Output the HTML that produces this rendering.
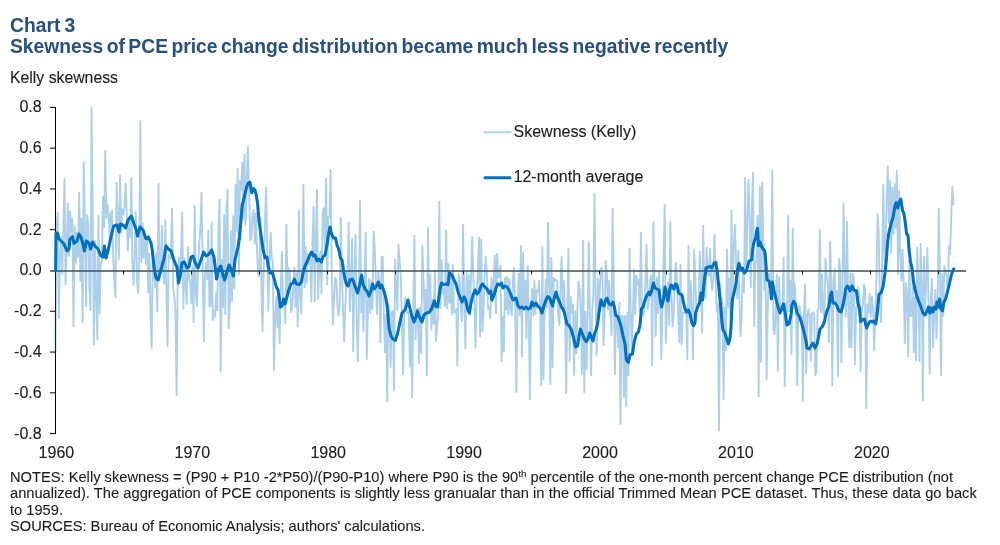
<!DOCTYPE html>
<html><head><meta charset="utf-8"><title>Chart 3</title>
<style>
html,body{margin:0;padding:0;background:#fff;}
body{width:1000px;height:545px;overflow:hidden;position:relative;font-family:"Liberation Sans",Arial,sans-serif;}
svg{position:absolute;left:0;top:0;display:block;}
svg text{font-family:"Liberation Sans",Arial,sans-serif;white-space:pre;}
svg text.ax{font-size:16px;fill:#1c1c1c;stroke:#1c1c1c;stroke-width:0.12px;}
svg text.t{font-size:19.3px;font-weight:bold;fill:#25507f;word-spacing:-1.9px;}
svg text.n{font-size:14.67px;fill:#1c1c1c;stroke:#1c1c1c;stroke-width:0.1px;}
</style></head><body>
<svg width="1000" height="545" viewBox="0 0 1000 545">
<rect x="0" y="0" width="1000" height="545" fill="#fff"/>
<text x="10" y="31.7" class="t" style="word-spacing:-1.2px">Chart 3</text>
<text x="10" y="52.75" class="t">Skewness of PCE price change distribution became much less negative recently</text>
<text x="10" y="83.2" class="ax" style="font-size:15.8px">Kelly skewness</text>
<line x1="55.5" x2="55.5" y1="107" y2="434" stroke="#000" stroke-width="1"/>
<line x1="50" x2="55.5" y1="107.38" y2="107.38" stroke="#000" stroke-width="1"/>
<text x="41.7" y="112.28" text-anchor="end" class="ax">0.8</text>
<line x1="50" x2="55.5" y1="148.16" y2="148.16" stroke="#000" stroke-width="1"/>
<text x="41.7" y="153.06" text-anchor="end" class="ax">0.6</text>
<line x1="50" x2="55.5" y1="188.94" y2="188.94" stroke="#000" stroke-width="1"/>
<text x="41.7" y="193.84" text-anchor="end" class="ax">0.4</text>
<line x1="50" x2="55.5" y1="229.72" y2="229.72" stroke="#000" stroke-width="1"/>
<text x="41.7" y="234.62" text-anchor="end" class="ax">0.2</text>
<line x1="50" x2="55.5" y1="270.50" y2="270.50" stroke="#000" stroke-width="1"/>
<text x="41.7" y="275.40" text-anchor="end" class="ax">0.0</text>
<line x1="50" x2="55.5" y1="311.28" y2="311.28" stroke="#000" stroke-width="1"/>
<text x="41.7" y="316.18" text-anchor="end" class="ax">-0.2</text>
<line x1="50" x2="55.5" y1="352.06" y2="352.06" stroke="#000" stroke-width="1"/>
<text x="41.7" y="356.96" text-anchor="end" class="ax">-0.4</text>
<line x1="50" x2="55.5" y1="392.84" y2="392.84" stroke="#000" stroke-width="1"/>
<text x="41.7" y="397.74" text-anchor="end" class="ax">-0.6</text>
<line x1="50" x2="55.5" y1="433.62" y2="433.62" stroke="#000" stroke-width="1"/>
<text x="41.7" y="438.52" text-anchor="end" class="ax">-0.8</text>

<line x1="50" x2="966" y1="271" y2="271" stroke="#767676" stroke-width="2"/>
<line x1="123.50" x2="123.50" y1="271" y2="274.4" stroke="#000" stroke-width="1"/>
<line x1="191.50" x2="191.50" y1="271" y2="274.4" stroke="#000" stroke-width="1"/>
<line x1="259.50" x2="259.50" y1="271" y2="274.4" stroke="#000" stroke-width="1"/>
<line x1="327.50" x2="327.50" y1="271" y2="274.4" stroke="#000" stroke-width="1"/>
<line x1="395.50" x2="395.50" y1="271" y2="274.4" stroke="#000" stroke-width="1"/>
<line x1="463.50" x2="463.50" y1="271" y2="274.4" stroke="#000" stroke-width="1"/>
<line x1="531.50" x2="531.50" y1="271" y2="274.4" stroke="#000" stroke-width="1"/>
<line x1="599.50" x2="599.50" y1="271" y2="274.4" stroke="#000" stroke-width="1"/>
<line x1="666.50" x2="666.50" y1="271" y2="274.4" stroke="#000" stroke-width="1"/>
<line x1="734.50" x2="734.50" y1="271" y2="274.4" stroke="#000" stroke-width="1"/>
<line x1="802.50" x2="802.50" y1="271" y2="274.4" stroke="#000" stroke-width="1"/>
<line x1="870.50" x2="870.50" y1="271" y2="274.4" stroke="#000" stroke-width="1"/>
<line x1="938.50" x2="938.50" y1="271" y2="274.4" stroke="#000" stroke-width="1"/>

<polyline fill="none" stroke="#0070c0" stroke-opacity="0.325" stroke-width="1.9" stroke-linejoin="round" points="55.4,353.2 56.5,225.8 57.7,212.8 58.8,318.2 59.9,257.8 61.1,236.7 62.2,273.7 63.3,231.7 64.5,178.8 65.6,284.2 66.7,245.2 67.9,203.8 69.0,256.1 70.1,211.7 71.3,232.7 72.4,218.8 73.5,326.2 74.7,226.3 75.8,262.9 76.9,232.8 78.0,256.9 79.2,192.8 80.3,280.8 81.4,218.7 82.6,322.2 83.7,162.8 84.8,219.4 86.0,306.2 87.1,215.2 88.2,223.6 89.4,289.4 90.5,310.2 91.6,107.8 92.8,223.9 93.9,344.2 95.0,240.8 96.2,296.9 97.3,339.2 98.4,215.8 99.6,313.2 100.7,263.9 101.8,260.9 103.0,196.8 104.1,227.5 105.2,150.8 106.4,217.9 107.5,204.4 108.6,212.9 109.8,241.3 110.9,214.1 112.0,210.4 113.2,258.3 114.3,279.1 115.4,297.2 116.6,182.8 117.7,218.6 118.8,259.4 120.0,175.8 121.1,233.0 122.2,209.2 123.3,214.8 124.5,206.8 125.6,183.8 126.7,212.1 127.9,250.6 129.0,217.1 130.1,237.0 131.3,177.8 132.4,261.6 133.5,285.2 134.7,250.5 135.8,212.0 136.9,278.9 138.1,293.2 139.2,260.8 140.3,121.4 141.5,261.7 142.6,223.0 143.7,257.9 144.9,241.5 146.0,264.2 147.1,238.3 148.3,292.2 149.4,253.6 150.5,311.8 151.7,348.2 152.8,251.2 153.9,268.7 155.1,287.2 156.2,253.0 157.3,311.7 158.5,183.8 159.6,280.4 160.7,269.3 161.9,226.0 163.0,269.4 164.1,283.6 165.3,220.0 166.4,292.2 167.5,346.2 168.7,254.6 169.8,257.2 170.9,258.7 172.0,208.8 173.2,287.7 174.3,296.2 175.4,310.7 176.6,395.2 177.7,283.2 178.8,257.9 180.0,273.7 181.1,251.2 182.2,212.2 183.4,308.4 184.5,258.3 185.6,282.2 186.8,304.0 187.9,247.0 189.0,277.8 190.2,283.2 191.3,302.9 192.4,266.8 193.6,322.2 194.7,205.8 195.8,291.8 197.0,306.2 198.1,267.7 199.2,243.9 200.4,228.4 201.5,192.8 202.6,264.8 203.8,341.2 204.9,278.0 206.0,263.3 207.2,279.1 208.3,230.8 209.4,306.5 210.6,306.2 211.7,222.4 212.8,320.2 214.0,311.2 215.1,316.8 216.2,292.4 217.3,310.2 218.5,228.4 219.6,199.8 220.7,371.2 221.9,259.7 223.0,307.3 224.1,215.3 225.3,314.2 226.4,209.2 227.5,189.8 228.7,328.2 229.8,306.1 230.9,231.0 232.1,301.0 233.2,216.3 234.3,288.7 235.5,184.8 236.6,230.8 237.7,168.8 238.9,274.2 240.0,180.6 241.1,190.0 242.3,162.8 243.4,219.7 244.5,154.8 245.7,224.7 246.8,181.4 247.9,146.8 249.1,190.0 250.2,240.1 251.3,238.8 252.5,213.4 253.6,210.0 254.7,243.4 255.9,213.3 257.0,251.5 258.1,274.2 259.2,276.3 260.4,217.6 261.5,291.8 262.6,331.2 263.8,261.6 264.9,228.5 266.0,187.8 267.2,240.3 268.3,310.2 269.4,270.7 270.6,232.8 271.7,257.7 272.8,262.1 274.0,370.2 275.1,319.7 276.2,297.2 277.4,327.0 278.5,292.2 279.6,343.2 280.8,285.9 281.9,251.8 283.0,301.6 284.2,302.0 285.3,323.2 286.4,224.8 287.6,291.4 288.7,267.8 289.8,272.7 291.0,312.2 292.1,307.7 293.2,290.4 294.4,267.4 295.5,306.6 296.6,273.2 297.8,326.2 298.9,210.8 300.0,293.0 301.2,313.7 302.3,272.8 303.4,184.8 304.6,287.2 305.7,247.0 306.8,282.8 307.9,253.6 309.1,264.3 310.2,258.3 311.3,301.8 312.5,240.9 313.6,206.8 314.7,301.2 315.9,237.1 317.0,189.8 318.1,299.2 319.3,263.7 320.4,251.2 321.5,293.2 322.7,213.8 323.8,208.1 324.9,247.4 326.1,178.8 327.2,284.4 328.3,217.1 329.5,216.7 330.6,169.8 331.7,267.6 332.9,324.2 334.0,300.0 335.1,277.9 336.3,279.5 337.4,304.2 338.5,315.7 339.7,305.2 340.8,217.8 341.9,273.1 343.1,312.9 344.2,341.2 345.3,307.0 346.5,272.9 347.6,279.6 348.7,222.8 349.8,311.3 351.0,281.1 352.1,238.8 353.2,351.2 354.4,279.7 355.5,234.8 356.6,315.5 357.8,361.2 358.9,306.4 360.0,200.8 361.2,312.2 362.3,280.7 363.4,331.2 364.6,279.6 365.7,232.8 366.8,359.2 368.0,306.9 369.1,279.0 370.2,313.1 371.4,280.5 372.5,309.2 373.6,231.8 374.8,247.6 375.9,281.2 377.0,314.2 378.2,272.4 379.3,280.9 380.4,342.2 381.6,256.8 382.7,256.6 383.8,312.6 385.0,352.2 386.1,314.5 387.2,401.2 388.4,303.4 389.5,312.4 390.6,367.2 391.8,312.0 392.9,311.4 394.0,390.2 395.1,259.8 396.3,286.9 397.4,310.0 398.5,244.8 399.7,261.8 400.8,276.2 401.9,316.4 403.1,374.2 404.2,312.5 405.3,297.2 406.5,310.3 407.6,313.1 408.7,311.9 409.9,366.2 411.0,310.6 412.1,397.2 413.3,316.3 414.4,235.8 415.5,339.2 416.7,309.7 417.8,308.3 418.9,363.2 420.1,307.6 421.2,353.2 422.3,245.8 423.5,280.1 424.6,312.7 425.7,289.6 426.9,375.2 428.0,227.8 429.1,310.1 430.3,274.9 431.4,329.6 432.5,299.2 433.7,323.8 434.8,270.1 435.9,341.2 437.1,327.2 438.2,313.2 439.3,201.8 440.4,307.9 441.6,260.1 442.7,293.2 443.8,288.7 445.0,306.2 446.1,230.2 447.2,308.4 448.4,264.0 449.5,302.7 450.6,275.6 451.8,314.7 452.9,264.8 454.0,312.3 455.2,311.9 456.3,308.9 457.4,365.2 458.6,274.2 459.7,279.4 460.8,308.7 462.0,321.2 463.1,224.8 464.2,299.4 465.4,348.2 466.5,272.8 467.6,309.4 468.8,275.2 469.9,315.0 471.0,278.9 472.2,236.8 473.3,275.9 474.4,302.6 475.6,347.2 476.7,295.5 477.8,272.7 479.0,237.8 480.1,336.2 481.2,239.8 482.4,331.2 483.5,312.0 484.6,275.5 485.8,256.8 486.9,273.5 488.0,308.4 489.1,306.4 490.3,318.2 491.4,277.8 492.5,301.0 493.7,278.7 494.8,255.8 495.9,313.2 497.1,253.8 498.2,277.8 499.3,274.7 500.5,265.8 501.6,361.2 502.7,316.5 503.9,351.2 505.0,277.8 506.1,309.8 507.3,276.7 508.4,314.8 509.5,279.4 510.7,308.2 511.8,315.4 512.9,279.6 514.1,267.8 515.2,308.4 516.3,392.2 517.5,309.3 518.6,273.7 519.7,314.9 520.9,245.8 522.0,356.2 523.1,252.8 524.3,307.7 525.4,280.8 526.5,338.2 527.7,265.8 528.8,314.3 529.9,399.2 531.1,307.8 532.2,288.9 533.3,315.5 534.4,281.0 535.6,313.9 536.7,290.3 537.8,291.9 539.0,280.8 540.1,308.7 541.2,385.2 542.4,246.8 543.5,379.2 544.6,312.9 545.8,279.5 546.9,307.6 548.0,222.8 549.2,281.2 550.3,384.2 551.4,257.8 552.6,367.2 553.7,277.8 554.8,280.7 556.0,279.7 557.1,281.3 558.2,315.4 559.4,325.2 560.5,283.8 561.6,256.8 562.8,308.9 563.9,281.0 565.0,312.2 566.2,393.2 567.3,311.3 568.4,248.8 569.6,361.2 570.7,297.0 571.8,312.3 573.0,304.8 574.1,375.2 575.2,311.4 576.4,353.2 577.5,306.6 578.6,281.8 579.7,289.5 580.9,311.0 582.0,374.2 583.1,240.8 584.3,392.2 585.4,311.8 586.5,369.2 587.7,311.5 588.8,241.8 589.9,314.6 591.1,375.2 592.2,310.6 593.3,296.9 594.5,193.8 595.6,295.8 596.7,355.2 597.9,278.8 599.0,315.1 600.1,280.8 601.3,267.8 602.4,272.9 603.5,345.2 604.7,314.5 605.8,260.8 606.9,274.0 608.1,309.7 609.2,280.8 610.3,312.7 611.5,335.2 612.6,208.8 613.7,272.4 614.9,374.2 616.0,310.7 617.1,315.6 618.3,347.2 619.4,302.8 620.5,424.2 621.6,315.5 622.8,316.4 623.9,397.2 625.0,315.9 626.2,406.2 627.3,312.4 628.4,375.2 629.6,248.8 630.7,310.1 631.8,352.8 633.0,308.8 634.1,269.8 635.2,314.3 636.4,275.7 637.5,284.7 638.6,279.9 639.8,311.2 640.9,232.8 642.0,309.2 643.2,315.2 644.3,310.0 645.4,280.7 646.6,244.8 647.7,309.2 648.8,301.9 650.0,281.4 651.1,275.6 652.2,365.2 653.4,221.8 654.5,283.5 655.6,336.2 656.8,277.3 657.9,313.0 659.0,272.6 660.2,299.0 661.3,359.6 662.4,315.5 663.6,254.8 664.7,204.8 665.8,343.2 667.0,305.8 668.1,282.0 669.2,325.2 670.3,221.8 671.5,294.6 672.6,326.2 673.7,314.5 674.9,279.4 676.0,262.8 677.1,285.1 678.3,316.7 679.4,342.2 680.5,264.8 681.7,344.2 682.8,312.3 683.9,313.1 685.1,313.2 686.2,307.4 687.3,359.6 688.5,245.8 689.6,315.2 690.7,281.3 691.9,309.3 693.0,359.6 694.1,249.8 695.3,278.6 696.4,311.9 697.5,308.6 698.7,302.7 699.8,251.8 700.9,282.7 702.1,332.8 703.2,225.8 704.3,297.8 705.5,298.1 706.6,247.8 707.7,272.6 708.9,275.8 710.0,248.8 711.1,278.6 712.2,290.0 713.4,274.6 714.5,234.8 715.6,281.6 716.8,311.6 717.9,303.4 719.0,430.2 720.2,283.6 721.3,313.0 722.4,298.5 723.6,399.2 724.7,307.6 725.8,350.2 727.0,249.8 728.1,307.7 729.2,278.2 730.4,314.7 731.5,210.8 732.6,303.7 733.8,245.2 734.9,224.8 736.0,259.7 737.2,298.4 738.3,250.8 739.4,299.0 740.6,336.2 741.7,312.9 742.8,272.1 744.0,292.3 745.1,177.8 746.2,271.3 747.4,223.4 748.5,179.8 749.6,216.4 750.8,287.3 751.9,205.7 753.0,172.4 754.2,326.2 755.3,263.8 756.4,260.2 757.6,215.8 758.7,396.2 759.8,186.8 760.9,362.2 762.1,182.4 763.2,233.2 764.3,290.0 765.5,255.4 766.6,379.2 767.7,313.1 768.9,273.1 770.0,286.7 771.1,285.9 772.3,170.8 773.4,330.1 774.5,334.2 775.7,312.8 776.8,274.6 777.9,370.8 779.1,276.9 780.2,309.1 781.3,312.1 782.5,305.1 783.6,257.8 784.7,386.2 785.9,303.1 787.0,315.2 788.1,215.8 789.3,311.1 790.4,281.0 791.5,354.2 792.7,228.8 793.8,308.9 794.9,283.8 796.1,311.1 797.2,385.2 798.3,310.1 799.5,305.6 800.6,314.7 801.7,316.8 802.9,401.2 804.0,312.7 805.1,284.8 806.2,373.2 807.4,315.0 808.5,309.8 809.6,315.1 810.8,361.2 811.9,313.5 813.0,312.3 814.2,314.3 815.3,375.2 816.4,371.2 817.6,309.7 818.7,309.0 819.8,229.8 821.0,312.6 822.1,274.8 823.2,311.2 824.4,316.2 825.5,258.8 826.6,276.2 827.8,283.9 828.9,342.2 830.0,241.8 831.2,282.2 832.3,385.2 833.4,280.1 834.6,268.8 835.7,302.3 836.8,290.6 838.0,376.2 839.1,258.8 840.2,272.2 841.4,362.2 842.5,276.4 843.6,203.8 844.8,278.0 845.9,316.6 847.0,221.8 848.1,302.5 849.3,347.2 850.4,273.4 851.5,347.2 852.7,273.8 853.8,281.2 854.9,364.2 856.1,307.0 857.2,308.5 858.3,286.7 859.5,299.4 860.6,371.2 861.7,309.8 862.9,305.5 864.0,284.8 865.1,290.3 866.3,408.2 867.4,304.3 868.5,312.6 869.7,293.8 870.8,316.7 871.9,297.0 873.1,308.5 874.2,350.2 875.3,314.3 876.5,274.8 877.6,213.8 878.7,231.9 879.9,306.1 881.0,322.2 882.1,263.5 883.3,184.8 884.4,261.0 885.5,248.1 886.7,198.4 887.8,166.4 888.9,223.1 890.1,180.8 891.2,252.7 892.3,187.8 893.5,233.9 894.6,184.3 895.7,227.7 896.8,170.8 898.0,274.2 899.1,190.8 900.2,252.3 901.4,280.2 902.5,249.8 903.6,282.1 904.8,343.2 905.9,283.1 907.0,293.9 908.2,356.2 909.3,260.5 910.4,316.4 911.6,315.2 912.7,278.6 913.8,352.2 915.0,297.6 916.1,360.2 917.2,247.8 918.4,280.6 919.5,361.2 920.6,243.8 921.8,283.6 922.9,400.2 924.0,256.8 925.2,309.0 926.3,280.4 927.4,247.8 928.6,303.8 929.7,373.2 930.8,301.9 932.0,278.8 933.1,347.2 934.2,315.4 935.4,289.8 936.5,338.2 937.6,301.7 938.8,208.8 939.9,272.7 941.0,375.2 942.1,274.3 943.3,315.8 944.4,265.8 945.5,272.1 946.7,277.9 947.8,290.5 948.9,245.8 950.1,253.8 951.2,219.0 952.3,186.8 953.5,205.2"/>
<polyline fill="none" stroke="#0070c0" stroke-width="3.05" stroke-linejoin="round" stroke-linecap="round" points="55.6,270.6 56.0,233.0 57.6,233.0 59.0,239.0 61.0,241.0 64.0,244.0 67.0,251.0 69.0,249.0 70.0,239.0 72.4,236.6 74.0,243.4 77.0,241.0 79.0,234.0 81.0,237.0 83.0,244.0 84.4,251.0 86.4,241.0 89.0,243.0 90.6,249.0 92.6,242.0 95.0,246.0 98.0,249.0 101.0,256.0 103.0,257.0 104.4,246.0 106.0,258.0 108.4,249.0 111.0,237.0 113.6,226.0 117.0,225.0 119.0,232.0 120.4,224.0 123.0,225.0 125.6,228.0 128.0,220.0 131.4,216.0 134.0,224.0 136.0,229.0 137.6,236.0 140.0,227.0 143.0,230.0 146.0,239.0 148.4,237.0 151.0,243.0 152.4,251.0 154.0,267.0 156.0,278.0 158.0,280.0 160.0,273.0 162.0,266.0 164.0,259.0 166.0,246.0 168.4,249.0 171.0,251.0 173.0,257.0 175.0,263.0 177.0,267.0 178.4,283.0 180.0,277.0 182.0,263.0 184.4,262.0 187.0,268.0 189.0,267.0 191.0,257.0 193.0,256.0 195.0,262.0 198.0,268.0 201.0,260.0 203.6,252.0 206.0,256.0 209.0,254.0 211.6,250.0 214.0,257.0 216.6,279.0 218.6,269.0 220.6,266.0 222.4,273.0 224.6,280.0 227.0,272.0 229.0,265.0 231.0,269.0 233.4,276.0 235.0,260.0 238.0,247.0 239.6,237.0 242.2,205.4 243.6,200.0 245.2,192.8 246.4,188.0 247.6,184.4 248.8,182.6 250.0,182.2 251.0,188.0 251.8,192.8 252.8,189.8 253.8,188.6 255.0,190.4 256.0,194.0 256.8,198.8 257.6,203.6 259.0,221.0 261.0,235.0 263.0,249.0 265.0,258.0 267.0,257.0 268.4,267.0 270.0,273.0 272.0,272.0 274.0,278.0 276.0,286.0 278.0,290.0 279.4,299.0 280.4,307.0 282.0,306.0 283.6,299.0 285.0,304.0 287.0,297.0 288.4,291.0 291.0,284.0 293.0,283.0 294.4,279.0 296.4,284.0 299.0,284.6 301.4,282.0 303.0,273.0 305.0,266.0 307.0,262.0 309.0,257.0 311.6,252.0 313.6,256.0 315.0,255.0 317.0,261.0 319.0,259.0 321.4,262.0 323.0,257.0 325.0,255.0 327.0,245.0 328.4,235.0 330.0,227.0 331.6,234.0 333.6,238.0 335.6,238.0 337.0,245.0 339.0,250.0 340.4,258.0 342.0,260.0 343.6,271.0 345.0,279.0 346.4,284.0 348.0,286.0 350.0,280.0 352.4,279.0 354.0,283.0 356.0,289.0 357.6,293.0 359.6,285.0 361.6,275.0 363.0,284.0 365.0,289.0 367.0,291.0 369.0,296.0 371.0,291.0 372.6,284.0 374.4,289.0 376.4,286.0 378.4,282.0 380.0,288.0 381.6,285.0 383.6,290.0 385.6,297.0 387.0,305.0 388.0,315.0 389.0,328.0 391.0,336.0 393.0,339.0 395.4,340.4 397.4,334.0 399.0,327.0 400.4,320.0 402.0,313.0 405.0,310.0 406.6,305.0 408.0,300.0 409.6,307.0 411.6,315.0 414.0,322.0 416.0,317.0 417.4,311.0 419.0,316.0 422.0,322.0 424.0,315.0 426.4,313.0 429.0,312.6 431.0,310.0 433.0,305.0 434.4,301.0 436.0,306.6 437.6,307.0 439.0,297.0 440.4,287.0 441.6,283.0 443.6,284.6 445.6,284.0 448.0,284.6 449.4,273.0 450.0,273.0 452.0,275.0 454.0,280.0 456.0,284.0 458.0,292.0 460.0,297.0 462.0,302.0 464.0,297.0 465.6,300.0 467.6,309.0 469.4,313.0 471.0,303.0 473.0,295.0 475.0,290.0 477.0,294.0 479.0,292.0 481.0,286.0 482.4,284.0 485.0,287.0 487.0,289.0 489.0,293.0 490.6,291.0 492.0,300.0 494.0,295.0 496.0,288.0 497.6,284.0 500.0,285.0 501.4,283.0 503.0,288.0 505.0,286.0 507.0,287.0 509.0,290.0 511.0,295.0 513.0,300.0 514.4,299.0 516.0,298.0 518.0,306.0 520.0,308.0 522.0,307.0 524.0,309.0 526.0,307.0 528.4,309.0 530.4,308.0 532.0,302.0 534.0,306.0 536.0,303.0 538.0,306.6 540.0,308.0 542.0,313.0 543.6,307.0 545.6,301.0 547.6,296.6 549.6,298.0 551.0,302.0 552.6,306.0 554.0,299.0 556.0,292.0 557.6,298.0 559.6,302.0 561.4,307.0 563.0,309.0 564.4,313.0 567.0,324.0 569.4,326.0 571.4,330.0 573.6,338.0 575.6,347.0 577.6,346.0 579.0,336.0 580.4,329.0 582.4,334.0 584.4,339.0 586.4,341.6 588.4,338.0 589.6,333.0 591.4,337.0 593.0,341.0 594.4,334.0 596.0,330.0 597.6,324.0 599.0,313.0 599.6,309.0 601.0,300.0 602.4,305.0 604.0,306.0 605.6,300.0 607.0,298.0 609.0,304.0 611.0,305.0 613.0,302.0 614.4,307.0 615.6,315.0 618.0,317.0 621.0,326.0 623.0,336.0 625.0,344.0 626.4,360.0 628.4,362.4 630.0,355.0 632.4,354.0 634.4,341.0 636.4,334.0 638.4,332.0 640.0,325.0 641.4,309.0 643.0,307.0 645.0,300.0 647.0,295.0 649.0,292.0 650.0,295.0 651.6,291.0 653.4,283.0 655.0,288.0 657.0,289.0 659.0,290.0 660.4,301.0 661.6,307.0 663.6,299.0 665.0,287.0 666.4,293.0 668.0,301.0 669.4,291.0 671.0,285.0 672.4,286.0 674.0,289.0 675.6,284.0 677.0,285.0 678.6,293.0 680.4,294.0 682.0,295.0 683.6,303.0 685.0,309.0 686.6,312.0 688.4,310.0 690.0,314.0 691.6,322.0 693.6,325.6 695.0,323.0 695.6,313.0 697.6,307.0 699.6,303.0 701.0,293.0 702.4,300.0 704.0,283.0 706.0,268.0 708.4,267.0 710.4,266.6 712.0,268.0 714.0,263.0 716.0,262.6 717.4,273.0 719.0,289.0 720.4,303.0 722.0,322.0 723.0,330.0 725.0,333.0 727.0,340.0 728.4,344.0 730.0,338.0 731.0,328.0 731.6,313.0 732.4,299.0 734.0,293.0 736.0,283.0 737.6,269.0 739.0,263.4 740.6,269.0 742.4,268.0 744.4,273.0 746.4,271.0 748.0,264.8 749.0,261.2 751.6,259.8 752.6,250.4 753.6,243.2 755.8,237.2 756.6,231.2 757.4,228.2 758.0,236.0 758.4,245.6 760.0,242.0 761.4,246.2 762.4,248.0 764.8,251.0 765.4,257.6 766.0,264.8 767.0,280.0 769.0,281.0 770.6,289.0 771.4,299.0 772.4,282.0 774.0,291.0 776.0,299.0 778.0,307.0 780.0,313.0 781.6,309.0 783.4,304.0 785.0,312.0 787.0,325.0 789.0,324.0 791.0,315.0 792.0,305.0 793.6,301.4 795.4,304.0 797.0,313.0 799.0,316.0 801.0,321.0 803.0,328.0 804.4,334.0 806.0,341.0 807.0,348.0 809.0,349.0 811.0,346.0 813.0,343.0 815.0,348.0 817.0,344.0 818.4,338.0 820.0,329.0 822.0,327.0 824.0,323.0 825.6,316.0 827.0,311.0 829.0,306.0 830.4,295.0 831.6,292.0 833.0,303.0 835.0,303.0 837.0,306.0 839.0,311.0 841.0,312.0 842.6,307.0 844.4,298.0 845.6,289.0 847.4,286.0 849.0,288.0 850.0,291.0 852.0,286.0 854.0,290.0 856.4,291.0 858.0,303.0 859.6,309.0 860.6,321.6 862.4,319.6 864.4,319.0 866.6,328.0 868.4,324.0 870.4,321.0 872.4,322.0 874.0,321.0 875.6,324.0 876.6,319.0 877.6,309.0 879.0,294.0 881.0,293.0 883.0,287.0 885.0,273.0 886.4,259.0 887.4,245.0 888.6,234.0 891.4,222.4 893.0,217.6 894.2,210.4 895.2,205.0 896.2,202.6 897.8,208.0 899.0,202.6 900.8,199.0 901.8,205.6 902.6,211.0 903.8,212.8 904.6,217.6 905.4,223.6 906.6,234.0 908.0,235.0 909.0,249.0 910.4,261.0 912.0,268.0 913.4,281.0 915.0,289.0 917.0,297.0 919.0,302.0 921.0,307.0 923.0,313.0 925.0,315.0 927.0,311.0 928.4,307.0 930.0,313.0 931.4,308.0 933.0,312.0 934.4,307.0 936.0,309.0 937.0,302.0 938.4,307.0 939.6,299.0 941.0,309.0 942.4,311.0 944.0,302.0 945.6,299.0 947.6,291.0 949.6,283.0 951.6,274.0 953.6,269.0"/>
<text x="56.40" y="457.6" text-anchor="middle" class="ax">1960</text>
<text x="192.30" y="457.6" text-anchor="middle" class="ax">1970</text>
<text x="328.20" y="457.6" text-anchor="middle" class="ax">1980</text>
<text x="464.10" y="457.6" text-anchor="middle" class="ax">1990</text>
<text x="600.00" y="457.6" text-anchor="middle" class="ax">2000</text>
<text x="735.90" y="457.6" text-anchor="middle" class="ax">2010</text>
<text x="871.80" y="457.6" text-anchor="middle" class="ax">2020</text>

<line x1="483.6" x2="511.5" y1="132.3" y2="132.3" stroke="#add2ec" stroke-width="1.9"/>
<text x="513.5" y="136.9" class="ax">Skewness (Kelly)</text>
<line x1="485" x2="510" y1="177.8" y2="177.8" stroke="#0070c0" stroke-width="3.05" stroke-linecap="round"/>
<text x="513.5" y="181.9" class="ax">12-month average</text>
<text x="10" y="481.75" class="n" style="word-spacing:0.06px">NOTES: Kelly skewness = (P90 + P10 -2*P50)/(P90-P10) where P90 is the 90<tspan dy="-5" font-size="9.8px">th</tspan><tspan dy="5"> percentile of the one-month percent change PCE distribution (not</tspan></text>
<text x="10" y="498.25" class="n" style="word-spacing:0.17px">annualized). The aggregation of PCE components is slightly less granualar than in the official Trimmed Mean PCE dataset. Thus, these data go back</text>
<text x="10" y="514.75" class="n">to 1959.</text>
<text x="10" y="531.25" class="n">SOURCES: Bureau of Economic Analysis; authors' calculations.</text>
</svg>
</body></html>
